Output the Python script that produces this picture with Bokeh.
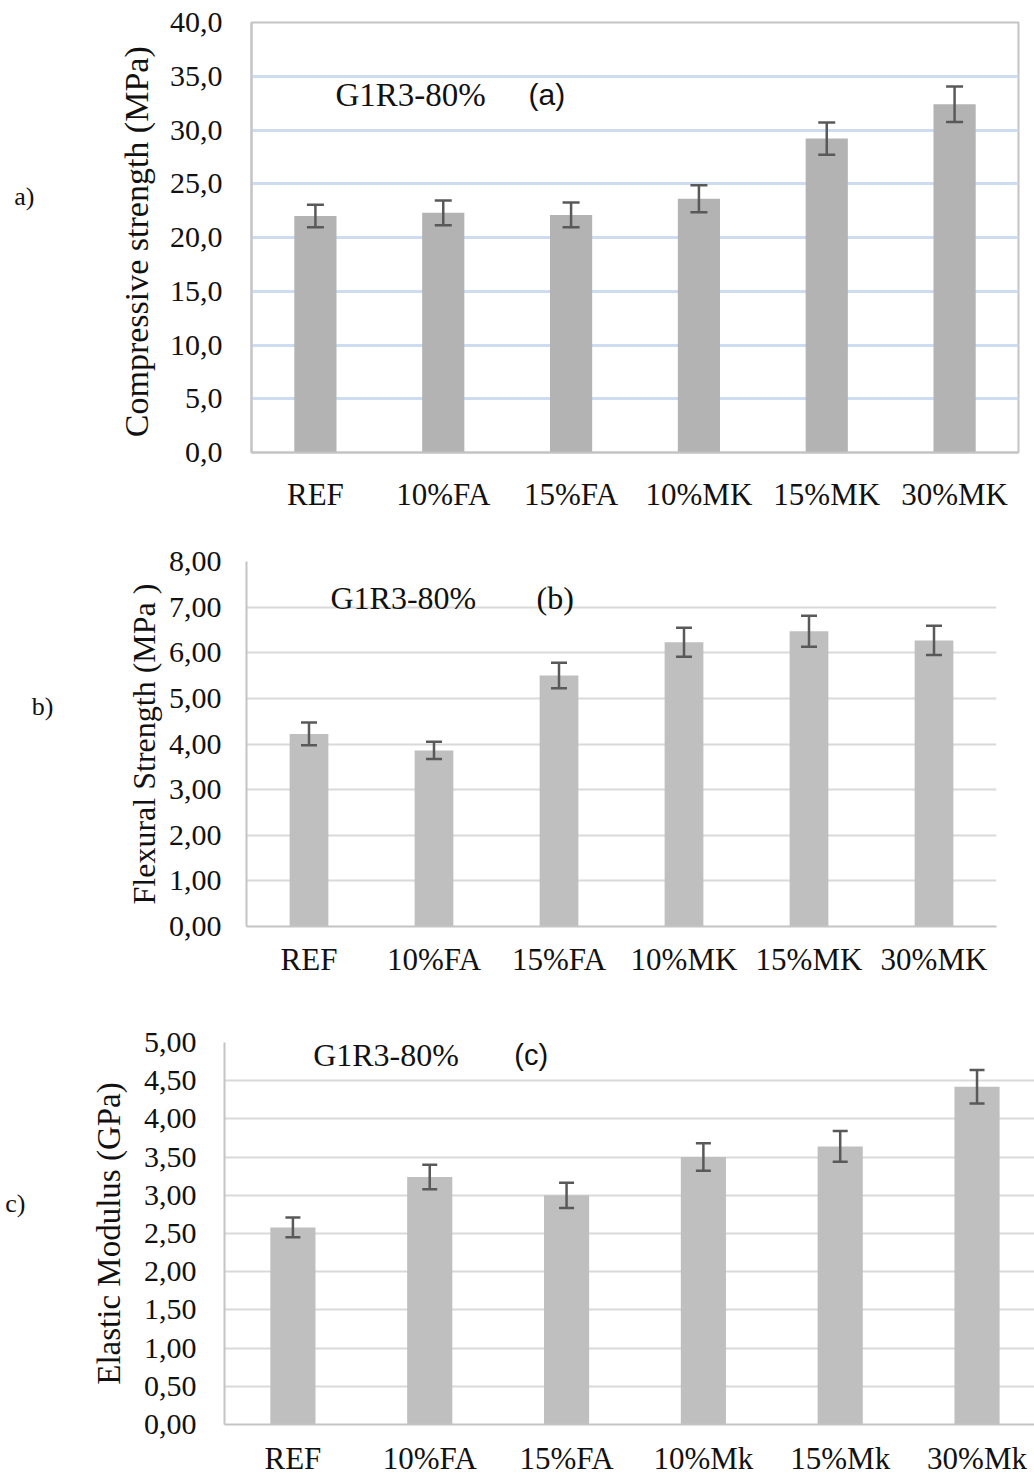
from bokeh.plotting import figure
from bokeh.models import (ColumnDataSource, Whisker, TeeHead, FixedTicker,
                          Range1d, FactorRange, Label, LinearAxis)
from bokeh.embed import file_html
from bokeh.resources import INLINE

# ---------------- data ----------------
cats_ab = ["REF", "10%FA", "15%FA", "10%MK", "15%MK", "30%MK"]
cats_c = ["REF", "10%FA", "15%FA", "10%Mk", "15%Mk", "30%Mk"]

comp = [22.0, 22.3, 22.1, 23.6, 29.2, 32.4]
comp_err = [1.05, 1.15, 1.15, 1.25, 1.5, 1.65]

flex = [4.22, 3.86, 5.50, 6.23, 6.47, 6.27]
flex_err = [0.25, 0.19, 0.28, 0.32, 0.34, 0.32]

elas = [2.58, 3.24, 3.00, 3.50, 3.64, 4.42]
elas_err = [0.13, 0.16, 0.165, 0.18, 0.20, 0.22]

ticks_a = [0, 5, 10, 15, 20, 25, 30, 35, 40]
tick_labels_a = ["0,0", "5,0", "10,0", "15,0", "20,0", "25,0", "30,0", "35,0", "40,0"]
ticks_b = [0, 1, 2, 3, 4, 5, 6, 7, 8]
tick_labels_b = ["0,00", "1,00", "2,00", "3,00", "4,00", "5,00", "6,00", "7,00", "8,00"]
ticks_c = [0, 0.5, 1, 1.5, 2, 2.5, 3, 3.5, 4, 4.5, 5]
tick_labels_c = ["0,00", "0,50", "1,00", "1,50", "2,00", "2,50", "3,00",
                 "3,50", "4,00", "4,50", "5,00"]

SERIF = "Liberation Serif"
SANS = "Liberation Sans"
ERR_COLOR = "#595959"
AXIS_COLOR = "#c4c4c4"
TEXT = "#111111"


def style(p, ticks, labels, ylabel, ylabel_size, tick_standoff, label_standoff,
          x_standoff):
    p.background_fill_color = "white"
    p.border_fill_color = "white"
    p.yaxis.ticker = FixedTicker(ticks=ticks)
    p.yaxis.major_label_overrides = {t: l for t, l in zip(ticks, labels)}
    for ax in (p.xaxis, p.yaxis):
        ax.major_tick_line_color = None
        ax.minor_tick_line_color = None
        ax.axis_line_color = AXIS_COLOR
        ax.axis_line_width = 2
        ax.major_label_text_font = SERIF
        ax.major_label_text_color = TEXT
    p.yaxis.major_label_text_font_size = "30px"
    p.xaxis.major_label_text_font_size = "31px"
    p.yaxis.major_label_standoff = tick_standoff
    p.xaxis.major_label_standoff = x_standoff
    p.yaxis.axis_label = ylabel
    p.yaxis.axis_label_text_font = SERIF
    p.yaxis.axis_label_text_font_style = "normal"
    p.yaxis.axis_label_text_font_size = ylabel_size
    p.yaxis.axis_label_text_color = TEXT
    p.yaxis.axis_label_standoff = label_standoff
    p.xgrid.grid_line_color = None


def panel_tag(p, text, ypos, standoff):
    ax = LinearAxis(ticker=FixedTicker(ticks=[ypos]),
                    major_label_overrides={ypos: text},
                    axis_line_color=None, major_tick_line_color=None,
                    minor_tick_line_color=None, major_label_standoff=standoff,
                    major_label_text_font=SERIF,
                    major_label_text_font_size="26px",
                    major_label_text_color=TEXT)
    p.add_layout(ax, "left")


def errbars(p, src, size):
    head = dict(size=size, line_color=ERR_COLOR, line_width=2.5)
    w = Whisker(source=src, base="x", upper="upper", lower="lower",
                line_color=ERR_COLOR, line_width=2.5,
                upper_head=TeeHead(**head), lower_head=TeeHead(**head),
                level="overlay")
    p.add_layout(w)


# ---------------- chart (a) ----------------
pa = figure(width=1034, height=530, x_range=FactorRange(*cats_ab),
            y_range=Range1d(0, 40), output_backend="svg", toolbar_location=None,
            min_border_left=251, min_border_right=16, min_border_top=22,
            min_border_bottom=78)
src_a = ColumnDataSource(dict(x=cats_ab, top=comp,
                              upper=[v + e for v, e in zip(comp, comp_err)],
                              lower=[v - e for v, e in zip(comp, comp_err)]))
pa.vbar(x="x", top="top", width=0.33, source=src_a, fill_color="#b3b3b3",
        line_color=None)
errbars(pa, src_a, 17)
style(pa, ticks_a, tick_labels_a, "Compressive strength  (MPa)", "34px", 23, 12, 18)
pa.ygrid.ticker = FixedTicker(ticks=ticks_a[1:-1])
pa.ygrid.grid_line_color = "#cddcf0"
pa.ygrid.grid_line_width = 3
pa.outline_line_color = AXIS_COLOR
pa.outline_line_width = 2
pa.add_layout(Label(x=0.657, y=33.26, text="G1R3-80%", text_font=SERIF,
                    text_font_size="33px", text_color=TEXT,
                    text_baseline="middle"))
pa.add_layout(Label(x=2.167, y=33.26, text="(a)", text_font=SANS,
                    text_font_size="30px", text_color=TEXT,
                    text_baseline="middle"))
panel_tag(pa, "a)", 23.84, 74)

# ---------------- chart (b) ----------------
pb = figure(width=1034, height=465, x_range=FactorRange(*cats_ab),
            y_range=Range1d(0, 8), output_backend="svg", toolbar_location=None,
            min_border_left=246, min_border_right=38, min_border_top=31,
            min_border_bottom=69)
src_b = ColumnDataSource(dict(x=cats_ab, top=flex,
                              upper=[v + e for v, e in zip(flex, flex_err)],
                              lower=[v - e for v, e in zip(flex, flex_err)]))
pb.vbar(x="x", top="top", width=0.31, source=src_b, fill_color="#bfbfbf",
        line_color=None)
errbars(pb, src_b, 16)
style(pb, ticks_b, tick_labels_b, "Flexural Strength (MPa )", "32px", 19, 4, 9)
pb.ygrid.ticker = FixedTicker(ticks=ticks_b[1:])
pb.ygrid.grid_line_color = "#d9d9d9"
pb.ygrid.grid_line_width = 2
pb.outline_line_color = None
pb.add_layout(Label(x=0.672, y=7.2, text="G1R3-80%", text_font=SERIF,
                    text_font_size="32px", text_color=TEXT,
                    text_baseline="middle"))
pb.add_layout(Label(x=2.32, y=7.2, text="(b)", text_font=SERIF,
                    text_font_size="32px", text_color=TEXT,
                    text_baseline="middle"))
panel_tag(pb, "b)", 4.82, 63)

# ---------------- chart (c) ----------------
xc = list(range(len(cats_c)))
pc = figure(width=1034, height=484, x_range=Range1d(-0.5, 5.42),
            y_range=Range1d(0, 5), output_backend="svg", toolbar_location=None,
            min_border_left=224, min_border_right=0, min_border_top=47,
            min_border_bottom=55)
src_c = ColumnDataSource(dict(x=xc, top=elas,
                              upper=[v + e for v, e in zip(elas, elas_err)],
                              lower=[v - e for v, e in zip(elas, elas_err)]))
pc.vbar(x="x", top="top", width=0.33, source=src_c, fill_color="#bfbfbf",
        line_color=None)
errbars(pc, src_c, 15)
style(pc, ticks_c, tick_labels_c, "Elastic Modulus (GPa)", "33px", 22, 14, 10)
pc.xaxis.ticker = FixedTicker(ticks=xc)
pc.xaxis.major_label_overrides = {i: c for i, c in zip(xc, cats_c)}
pc.ygrid.ticker = FixedTicker(ticks=ticks_c[1:])
pc.ygrid.grid_line_color = "#d9d9d9"
pc.ygrid.grid_line_width = 2
pc.outline_line_color = None
pc.add_layout(Label(x=0.148, y=4.83, text="G1R3-80%", text_font=SERIF,
                    text_font_size="32px", text_color=TEXT,
                    text_baseline="middle"))
pc.add_layout(Label(x=1.618, y=4.83, text="(c)", text_font=SANS,
                    text_font_size="29px", text_color=TEXT,
                    text_baseline="middle"))
panel_tag(pc, "c)", 2.89, 56)

p = [pa, pb, pc]
open("out.html", "w").write(file_html(p, INLINE))
